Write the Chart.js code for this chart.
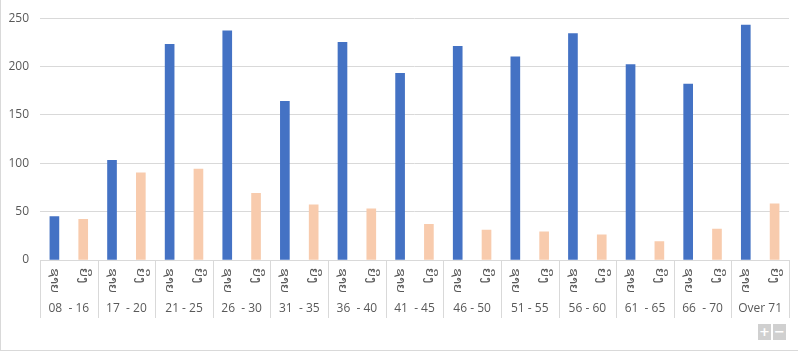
<!DOCTYPE html>
<html>
<head>
<meta charset="utf-8">
<script src="https://cdn.jsdelivr.net/npm/chart.js@4/dist/chart.umd.min.js"></script>
<style>
  html, body { margin: 0; padding: 0; background: #fff; }
  #wrap { position: relative; width: 798px; height: 351px; box-sizing: border-box; border-left: 1px solid #d9d9d9; border-bottom: 1px solid #d9d9d9; }
  #wrap canvas { position: absolute; left: 0; top: 0; }
  .zbtn { position: absolute; top: 324px; width: 13px; height: 16px; background: #d0d0d0; color: #fff;
          font: bold 13px "DejaVu Sans", sans-serif; line-height: 16px; text-align: center; }
</style>
</head>
<body>
<div id="wrap">
  <canvas id="chart" width="797" height="350"></canvas>
  <div class="zbtn" style="left:757px">+</div>
  <div class="zbtn" style="left:772px">−</div>
</div>
<script>
// groupes d'âge et sous-catégories (ຊາຍ = hommes, ຍິງ = femmes)
const groups = ['08  - 16', '17  - 20', '21 - 25', '26  - 30', '31  - 35', '36  - 40', '41  - 45',
                '46 - 50', '51 - 55', '56 - 60', '61  - 65', '66  - 70', 'Over 71'];
const subLabels = ['ຊາຍ', 'ຍິງ'];
const maleValues = [45, 103, 223, 237, 164, 225, 193, 221, 210, 234, 202, 182, 243];
const femaleValues = [42, 90, 94, 69, 57, 53, 37, 31, 29, 26, 19, 32, 58];

const labels = groups.flatMap(() => subLabels);
const maleData = labels.map((l, i) => i % 2 === 0 ? maleValues[i / 2] : null);
const femaleData = labels.map((l, i) => i % 2 === 1 ? femaleValues[(i - 1) / 2] : null);

const GRID = '#d9d9d9';
const TEXT = '#595959';

// dessine les libellés verticaux + séparateurs de groupes
const groupAxis = {
  id: 'groupAxis',
  afterDraw(chart) {
    const ctx = chart.ctx;
    const xs = chart.scales.x, x2 = chart.scales.x2;
    const slot = (xs.right - xs.left) / labels.length;
    ctx.save();
    ctx.fillStyle = TEXT;
    ctx.font = '13px "DejaVu Sans"';
    ctx.textAlign = 'left';
    ctx.textBaseline = 'middle';
    labels.forEach((l, i) => {
      const px = xs.getPixelForTick(i);
      ctx.save();
      ctx.translate(px, xs.top + 8);
      ctx.rotate(Math.PI / 2);
      ctx.fillText(l, 0, 0);
      ctx.restore();
    });
    ctx.strokeStyle = GRID;
    ctx.lineWidth = 1;
    ctx.beginPath();
    for (let g = 0; g <= groups.length; g++) {
      const px = Math.round(xs.left + g * 2 * slot) + 0.5;
      ctx.moveTo(px, xs.top);
      ctx.lineTo(px, x2.bottom);
    }
    ctx.stroke();
    ctx.restore();
  }
};

new Chart(document.getElementById('chart'), {
  type: 'bar',
  data: {
    labels: labels,
    datasets: [
      { label: 'ຊາຍ', data: maleData, backgroundColor: '#4472C4', barThickness: 9, skipNull: true },
      { label: 'ຍິງ', data: femaleData, backgroundColor: '#F8CBAD', barThickness: 9, skipNull: true }
    ]
  },
  options: {
    responsive: false,
    animation: false,
    layout: { padding: { left: 0, right: 9, top: 13, bottom: 32 } },
    plugins: { legend: { display: false }, tooltip: { enabled: false } },
    scales: {
      x: {
        grid: { display: false, drawTicks: false },
        border: { color: GRID },
        afterFit: s => { s.height = 33; },
        ticks: { color: 'rgba(0,0,0,0)', font: { family: 'DejaVu Sans', size: 10 }, minRotation: 90, maxRotation: 90, padding: 0, autoSkip: false }
      },
      x2: {
        type: 'category',
        labels: groups,
        position: 'bottom',
        offset: true,
        grid: { display: false, drawTicks: false },
        border: { display: false },
        afterFit: s => { s.height = 25; },
        ticks: { color: TEXT, font: { family: 'Open Sans', size: 12 }, padding: 8, autoSkip: false, maxRotation: 0 }
      },
      y: {
        min: 0, max: 250,
        grid: { color: GRID, drawTicks: false },
        border: { display: false },
        afterFit: s => { s.width = 39; },
        ticks: { stepSize: 50, color: TEXT, font: { family: 'Open Sans', size: 12 }, padding: 11 }
      }
    }
  },
  plugins: [groupAxis]
});
</script>
</body>
</html>
